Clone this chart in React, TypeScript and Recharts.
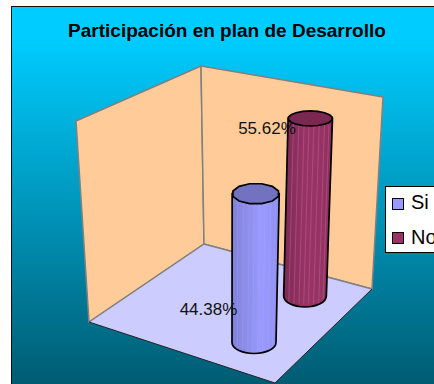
import { BarChart, Bar, XAxis, YAxis, Legend, LabelList } from "recharts"

const categories = ["Si", "No"]
const values = [44.38, 55.62]
const colors = ["#9999FF", "#993366"]
const title = "Participación en plan de Desarrollo"

const chartData = [
  {
    name: "Plan",
    [categories[0]]: values[0],
    [categories[1]]: values[1],
  },
]

// fake 3D: how each series sits on the floor, back cylinder is further away
const depth: Record<string, any> = {
  Si: { dy: 0, k: 1, wk: 1, lean: 1.7, spread: 1.07, topRy: 10.3, baseRy: 11, sides: 12, labelDx: -45.5, labelY: 309 },
  No: { dy: -46.5, k: 0.952, wk: 0.97, lean: 5.3, spread: 1.04, topRy: 7.5, baseRy: 11, sides: 18, labelDx: -38, labelY: 128 },
}

const shades: Record<string, { body: string[]; top: string; stripe: string; stripeOpacity: number }> = {
  Si: { body: ["#7f80d6", "#8a8ae6", "#9090ee", "#9999ff", "#9696fa", "#8e8eec"], top: "#7272c0", stripe: "#b3b3ff", stripeOpacity: 0.25 },
  No: { body: ["#7d2a55", "#8a2e5c", "#963264", "#993366", "#963264", "#8c2f5e"], top: "#792851", stripe: "#c06f96", stripeOpacity: 0.55 },
}

const stripeAt = [0.12, 0.24, 0.36, 0.47, 0.58, 0.7, 0.82, 0.92]

function Cylinder(props: any) {
  const { x, y, width, height, seriesName } = props
  const d = depth[seriesName]
  const s = shades[seriesName]
  const base = y + height + d.dy
  const top = base - height * d.k
  const cx = x + width / 2
  const bw = width * d.wk
  const tw = bw * d.spread
  const tcx = cx + d.lean

  const topPoints = Array.from({ length: d.sides }, (_, i) => {
    const a = ((i + 0.5) / d.sides) * Math.PI * 2
    return `${tcx + (Math.cos(a) * tw) / 2},${top + Math.sin(a) * d.topRy}`
  }).join(" ")

  const body = `M${tcx - tw / 2},${top} L${cx - bw / 2},${base} A${bw / 2},${d.baseRy} 0 0 0 ${cx + bw / 2},${base} L${tcx + tw / 2},${top} Z`

  return (
    <g>
      <defs>
        <linearGradient id={`body-${seriesName}`} x1="0" y1="0" x2="1" y2="0">
          {s.body.map((c, i) => (
            <stop key={i} offset={i / (s.body.length - 1)} stopColor={c} />
          ))}
        </linearGradient>
      </defs>
      <path d={body} fill={`url(#body-${seriesName})`} />
      {stripeAt.map((f) => (
        <line
          key={f}
          x1={tcx - tw / 2 + tw * f}
          y1={top + d.topRy * 0.8}
          x2={cx - bw / 2 + bw * f}
          y2={base + d.baseRy * 0.7}
          stroke={s.stripe}
          strokeWidth={0.8}
          strokeOpacity={s.stripeOpacity}
        />
      ))}
      <path d={body} fill="none" stroke="#000" strokeWidth={1.7} />
      <polygon points={topPoints} fill={s.top} stroke="#000" strokeWidth={1.7} />
    </g>
  )
}

function PercentLabel(props: any) {
  const { x, width, value, seriesName } = props
  const d = depth[seriesName]
  return (
    <text x={x + width / 2 + d.labelDx} y={d.labelY} dy={6} textAnchor="middle" fontSize={17} fill="#111" fontFamily="'Liberation Sans', Arial, sans-serif">
      {`${Number(value).toFixed(2)}%`}
    </text>
  )
}

function Walls() {
  return (
    <g>
      <polygon points="76,121 201,66 204,244 89,322" fill="#FFCC99" stroke="#808080" strokeWidth={1.5} />
      <polygon points="201,66 383,97 372,289 204,244" fill="#FFCC99" stroke="#808080" strokeWidth={1.5} />
      <polygon points="204,244 372,289 275,383 89,322" fill="#CCCCFF" />
      <polyline points="89,322 204,244 372,289" fill="none" stroke="#808080" strokeWidth={1.5} />
      <polyline points="89,322 275,383 372,289" fill="none" stroke="#222" strokeWidth={1} />
    </g>
  )
}

function LegendBox() {
  return (
    <div style={{ width: 70, height: 67, background: "#fff", border: "1px solid #000", boxSizing: "border-box", fontFamily: "'Liberation Sans', Arial, sans-serif", fontSize: 20, color: "#000" }}>
      {categories.map((c, i) => (
        <div key={c} style={{ position: "absolute", left: 7, top: 10 + i * 34, display: "flex", alignItems: "center", height: 16 }}>
          <span style={{ display: "inline-block", width: 10, height: 10, background: colors[i], border: "1.5px solid #000", marginRight: 7 }} />
          <span style={{ position: "relative", top: i === 0 ? -2 : -1 }}>{c}</span>
        </div>
      ))}
    </div>
  )
}

export default function App() {
  return (
    <div style={{ position: "absolute", left: 0, top: 0, width: 434, height: 384, overflow: "hidden", background: "#fff" }}>
      <div
        style={{
          position: "absolute",
          left: 11,
          top: 6,
          width: 440,
          height: 400,
          boxSizing: "border-box",
          border: "1.5px solid #111",
          background: "linear-gradient(180deg, #00CCFF 0%, #00CCFF 8%, #005A70 96%)",
        }}
      />
      <div style={{ position: "absolute", left: 0, top: 0 }}>
        <BarChart width={434} height={384} data={chartData} margin={{ top: 141.3, right: 79.6, left: 204, bottom: 41.5 }} barSize={44} barGap={7}>
          <Walls />
          <text x={227} y={37} textAnchor="middle" fontSize={19} fontWeight="bold" fill="#000" fontFamily="'Liberation Sans', Arial, sans-serif">
            {title}
          </text>
          <XAxis dataKey="name" hide />
          <YAxis hide domain={[0, 60]} />
          <Legend layout="vertical" align="center" verticalAlign="middle" wrapperStyle={{ left: 385, top: 186, width: 70 }} content={<LegendBox />} />
          {categories.map((c, i) => (
            <Bar key={c} dataKey={c} name={c} fill={colors[i]} isAnimationActive={false} shape={(p: any) => <Cylinder {...p} seriesName={c} />}>
              <LabelList dataKey={c} content={(p: any) => <PercentLabel {...p} seriesName={c} />} />
            </Bar>
          ))}
        </BarChart>
      </div>
    </div>
  )
}
